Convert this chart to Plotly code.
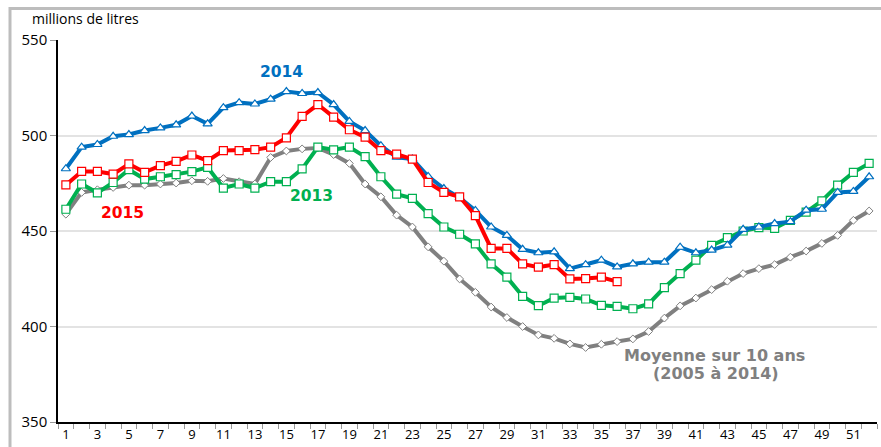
import plotly.graph_objects as go

weeks = list(range(1, 53))

y2015 = [474.1, 481.2, 481.2, 479.8, 485.1, 480.7, 484.2, 486.5, 489.8, 486.8,
         492.1, 492.1, 492.6, 493.9, 498.8, 510.0, 516.2, 509.6, 503.0, 499.1,
         492.1, 490.2, 487.6, 475.4, 470.2, 467.9, 458.1, 440.9, 440.9, 432.8,
         431.1, 432.4, 424.9, 425.1, 425.8, 423.5]

y2014 = [482.6, 493.9, 495.3, 499.6, 500.5, 502.6, 504.0, 505.6, 510.2, 506.1,
         514.6, 517.2, 516.5, 519.0, 523.0, 522.0, 522.5, 516.2, 507.4, 502.6,
         494.7, 488.6, 487.7, 478.6, 472.2, 467.5, 460.8, 452.1, 447.7, 440.4,
         438.6, 439.1, 430.3, 432.4, 434.7, 431.2, 432.8, 433.7, 433.7, 441.5,
         438.6, 440.0, 442.6, 450.9, 452.1, 453.9, 454.9, 460.9, 461.4, 470.2,
         470.7, 478.4]

y2013 = [461.4, 474.6, 470.0, 475.4, 482.1, 477.2, 478.4, 479.5, 481.1, 483.3,
         472.5, 474.6, 472.5, 475.8, 475.8, 482.5, 493.9, 492.5, 493.9, 488.9,
         478.4, 469.3, 467.1, 459.1, 452.1, 448.3, 443.3, 432.8, 425.8, 415.8,
         410.9, 414.9, 415.3, 414.4, 411.1, 410.5, 409.3, 411.8, 420.4, 427.7,
         434.7, 442.5, 446.5, 450.0, 451.8, 451.4, 455.6, 459.9, 465.8, 474.0,
         480.7, 485.4]

ymoy = [458.8, 470.2, 471.6, 472.8, 474.0, 474.0, 474.6, 475.1, 476.3, 476.0,
        477.5, 475.8, 474.6, 488.5, 491.9, 493.0, 493.5, 490.0, 485.4, 474.6,
        467.9, 458.3, 452.1, 441.7, 434.2, 424.9, 417.9, 410.2, 404.7, 400.0,
        395.6, 393.8, 390.9, 389.0, 390.7, 392.1, 393.5, 397.4, 404.4, 410.8,
        414.9, 419.3, 423.7, 427.7, 430.3, 432.4, 436.3, 439.5, 443.5, 447.7,
        455.6, 460.5]

x_ticks = list(range(1, 53, 2))
y_ticks = [350, 400, 450, 500, 550]

BLUE = "#0070C0"
RED = "#FF0000"
GREEN = "#00B050"
GRAY = "#808080"

fig = go.Figure()

fig.add_trace(go.Scatter(
    x=weeks, y=ymoy, mode="lines+markers", name="Moyenne",
    line=dict(color=GRAY, width=4),
    marker=dict(symbol="diamond", size=6, color="white", line=dict(color=GRAY, width=1)),
))
fig.add_trace(go.Scatter(
    x=weeks, y=y2013, mode="lines+markers", name="2013",
    line=dict(color=GREEN, width=4),
    marker=dict(symbol="square", size=8, color="white", line=dict(color=GREEN, width=1.2)),
))
fig.add_trace(go.Scatter(
    x=weeks, y=y2014, mode="lines+markers", name="2014",
    line=dict(color=BLUE, width=4),
    marker=dict(symbol="triangle-up", size=8, color="white", line=dict(color=BLUE, width=1.2)),
))
fig.add_trace(go.Scatter(
    x=weeks[:len(y2015)], y=y2015, mode="lines+markers", name="2015",
    line=dict(color=RED, width=4),
    marker=dict(symbol="square", size=8, color="white", line=dict(color=RED, width=1.2)),
))

ann_font = "DejaVu Sans"
annotations = [
    dict(x=14.7, y=533.2, text="<b>2014</b>", font=dict(color=BLUE, size=15.5, family=ann_font)),
    dict(x=4.6, y=459.5, text="<b>2015</b>", font=dict(color=RED, size=15.5, family=ann_font)),
    dict(x=16.6, y=468.4, text="<b>2013</b>", font=dict(color=GREEN, size=15.5, family=ann_font)),
    dict(x=42.2, y=385.0, text="<b>Moyenne sur 10 ans</b>", font=dict(color=GRAY, size=16, family=ann_font)),
    dict(x=42.3, y=375.3, text="<b>(2005 à 2014)</b>", font=dict(color=GRAY, size=16, family=ann_font)),
]
for a in annotations:
    a.update(xref="x", yref="y", showarrow=False)

annotations.append(dict(
    x=(30 - 58) / 819, y=1 + (40 - 18) / 382, xref="paper", yref="paper",
    text="millions de litres",
    showarrow=False, xanchor="left", yanchor="middle",
    font=dict(size=14, color="black", family="Open Sans"),
))

fig.update_layout(
    width=881, height=447,
    margin=dict(l=58, r=4, t=40, b=25),
    paper_bgcolor="white", plot_bgcolor="white",
    showlegend=False,
    font=dict(family="Open Sans", size=13, color="black"),
    xaxis=dict(
        range=[0.5, 52.5], tickvals=x_ticks, ticktext=[str(t) for t in x_ticks],
        ticks="", showgrid=False, zeroline=False,
        showline=True, linecolor="black", linewidth=1.5,
        tickfont=dict(size=13, family="Open Sans"),
        minor=dict(tick0=0.5, dtick=1, ticks="outside", ticklen=5, tickcolor="#999999", showgrid=False),
    ),
    yaxis=dict(
        range=[350, 550], tickvals=y_ticks,
        ticks="outside", ticklen=6, tickcolor="#999999",
        showgrid=True, gridcolor="#E3E3E3", gridwidth=1.5, zeroline=False,
        showline=True, linecolor="black", linewidth=1.5,
        tickfont=dict(size=15, family="Open Sans"),
    ),
    annotations=annotations,
)

fig.add_shape(type="rect", xref="paper", yref="paper",
              x0=(10 - 58) / 819, x1=1.2, y0=-0.3, y1=1 + (40 - 8.5) / 382,
              line=dict(color="#BDBDBD", width=3), layer="below")

fig.write_html("out.html", config={"displayModeBar": False},
               post_script="document.body.style.margin='0';document.body.style.overflow='hidden';")
